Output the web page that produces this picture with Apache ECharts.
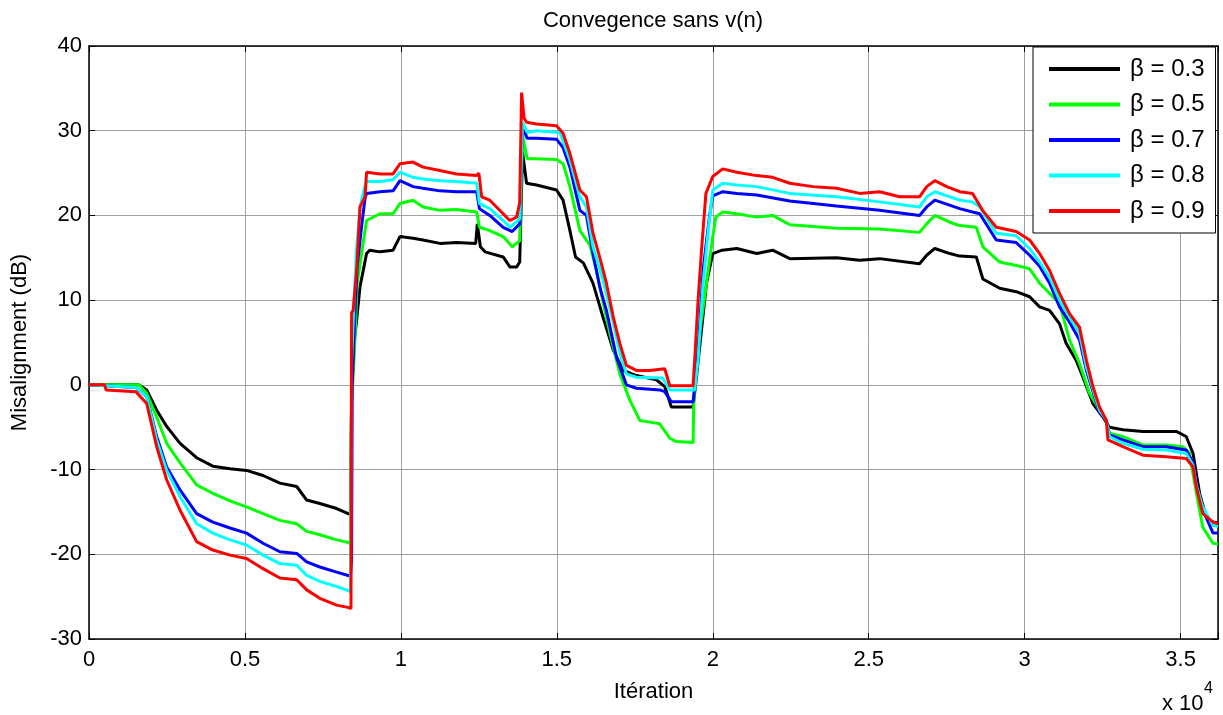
<!DOCTYPE html>
<html>
<head>
<meta charset="utf-8">
<script src="https://cdn.jsdelivr.net/npm/echarts@6/dist/echarts.min.js"></script>
<style>
html,body{margin:0;padding:0;background:#fff;}
#chart{width:1223px;height:715px;}
</style>
</head>
<body>
<div id="chart"></div>
<script>
// x values in units of 10^4 iterations, y in dB
const seriesNames = ['\u03b2 = 0.3', '\u03b2 = 0.5', '\u03b2 = 0.7', '\u03b2 = 0.8', '\u03b2 = 0.9'];
const xTicks = [0, 0.5, 1, 1.5, 2, 2.5, 3, 3.5];
const yTicks = [-30, -20, -10, 0, 10, 20, 30, 40];

const beta03 = [[0,0],[0.16,0],[0.185,-0.6],[0.217,-3],[0.249,-4.9],[0.292,-6.9],[0.345,-8.6],[0.397,-9.6],[0.452,-9.9],[0.505,-10.1],[0.558,-10.7],[0.612,-11.6],[0.666,-12.0],[0.698,-13.6],[0.74,-14.0],[0.794,-14.6],[0.831,-15.2],[0.838,-15.3],[0.842,-1.0],[0.85,5.0],[0.858,7.6],[0.869,11.6],[0.89,15.5],[0.9,15.9],[0.933,15.7],[0.975,15.9],[0.997,17.5],[1.039,17.3],[1.071,17.1],[1.125,16.7],[1.178,16.8],[1.24,16.7],[1.245,19.0],[1.255,16.3],[1.27,15.7],[1.328,15.1],[1.35,13.9],[1.371,13.9],[1.381,14.5],[1.39,27.5],[1.403,23.8],[1.435,23.6],[1.499,23.0],[1.52,21.8],[1.542,18.2],[1.56,15.1],[1.585,14.4],[1.616,12.0],[1.648,8.0],[1.681,4.1],[1.713,1.7],[1.755,1.1],[1.819,0.6],[1.846,-0.2],[1.867,-2.6],[1.937,-2.6],[1.948,1.0],[1.98,12.0],[2.0,15.5],[2.03,15.9],[2.077,16.1],[2.141,15.5],[2.192,15.9],[2.247,14.9],[2.397,15.0],[2.471,14.7],[2.535,14.9],[2.663,14.3],[2.686,15.3],[2.712,16.1],[2.76,15.5],[2.792,15.2],[2.845,15.1],[2.866,12.5],[2.92,11.4],[2.973,11.0],[3.016,10.4],[3.048,9.2],[3.08,8.8],[3.112,7.2],[3.133,4.9],[3.165,2.9],[3.187,0.9],[3.219,-2.2],[3.251,-3.8],[3.272,-5.0],[3.315,-5.3],[3.379,-5.5],[3.486,-5.5],[3.518,-6.1],[3.54,-8.1],[3.561,-12.8],[3.582,-15.6],[3.604,-16.2],[3.62,-16.3]];

const beta05 = [[0,0],[0.16,0],[0.185,-1.0],[0.217,-3.8],[0.249,-6.9],[0.292,-9.2],[0.345,-11.8],[0.397,-12.8],[0.452,-13.7],[0.505,-14.4],[0.558,-15.2],[0.612,-16.0],[0.666,-16.4],[0.698,-17.3],[0.74,-17.7],[0.794,-18.3],[0.831,-18.6],[0.838,-18.8],[0.842,-2.0],[0.85,3.0],[0.86,12.0],[0.874,15.5],[0.89,19.4],[0.933,20.2],[0.975,20.2],[0.997,21.4],[1.039,21.8],[1.071,21.0],[1.125,20.6],[1.178,20.7],[1.243,20.4],[1.252,18.6],[1.285,18.2],[1.328,17.5],[1.357,16.3],[1.381,17.0],[1.39,29.5],[1.405,26.7],[1.43,26.7],[1.499,26.6],[1.52,26.1],[1.542,23.4],[1.574,18.2],[1.606,16.5],[1.627,13.5],[1.648,9.8],[1.670,6.1],[1.702,1.3],[1.734,-1.8],[1.766,-4.2],[1.798,-4.4],[1.83,-4.6],[1.862,-6.3],[1.884,-6.7],[1.937,-6.8],[1.939,-2.2],[1.948,3.5],[1.98,12.0],[2.0,17.5],[2.01,19.8],[2.032,20.4],[2.077,20.2],[2.141,19.8],[2.192,20.0],[2.247,18.9],[2.397,18.5],[2.535,18.4],[2.663,18.0],[2.686,19.0],[2.712,20.0],[2.76,19.2],[2.792,18.8],[2.845,18.6],[2.866,16.3],[2.92,14.5],[2.973,14.1],[3.016,13.7],[3.048,12.0],[3.08,10.8],[3.112,9.6],[3.144,5.3],[3.176,2.5],[3.208,-1.0],[3.24,-3.0],[3.262,-4.2],[3.272,-5.7],[3.315,-6.1],[3.379,-7.1],[3.454,-7.1],[3.507,-7.3],[3.528,-8.0],[3.55,-12.6],[3.571,-16.8],[3.604,-18.7],[3.62,-18.8]];

const beta07 = [[0,0],[0.15,-0.3],[0.185,-1.4],[0.217,-6.1],[0.249,-9.7],[0.292,-12.4],[0.345,-15.2],[0.397,-16.2],[0.452,-16.9],[0.505,-17.5],[0.558,-18.7],[0.612,-19.7],[0.666,-19.9],[0.698,-20.9],[0.74,-21.5],[0.794,-22.1],[0.831,-22.5],[0.838,-22.6],[0.842,-20.5],[0.844,0],[0.852,8.0],[0.86,14.0],[0.875,19.0],[0.885,22.0],[0.89,22.6],[0.933,22.8],[0.975,22.9],[0.997,24.1],[1.039,23.4],[1.071,23.2],[1.125,22.9],[1.178,22.8],[1.243,22.8],[1.252,20.8],[1.285,20.0],[1.328,18.6],[1.357,18.1],[1.381,19.0],[1.39,30.5],[1.405,29.1],[1.435,29.1],[1.499,29.0],[1.52,28.0],[1.542,25.7],[1.574,20.6],[1.595,20.0],[1.616,15.5],[1.638,11.5],[1.659,8.8],[1.691,3.3],[1.723,0],[1.755,-0.4],[1.83,-0.6],[1.846,-0.8],[1.867,-2.0],[1.937,-2.0],[1.953,4.1],[1.969,13.5],[1.98,17.0],[1.99,20.0],[2.0,22.3],[2.032,22.8],[2.077,22.6],[2.141,22.4],[2.247,21.7],[2.397,21.1],[2.535,20.6],[2.663,20.0],[2.686,21.0],[2.712,21.8],[2.792,20.8],[2.833,20.4],[2.856,20.2],[2.909,17.1],[2.973,16.8],[3.016,15.3],[3.048,14.0],[3.08,12.0],[3.112,9.2],[3.144,7.4],[3.176,5.3],[3.198,1.7],[3.219,-0.8],[3.24,-3.2],[3.262,-4.2],[3.272,-5.9],[3.315,-6.5],[3.379,-7.3],[3.454,-7.3],[3.518,-7.7],[3.54,-9.2],[3.555,-12.4],[3.571,-14.7],[3.604,-17.5],[3.62,-17.5]];

const beta08 = [[0,0],[0.15,-0.3],[0.185,-1.4],[0.217,-6.5],[0.249,-10.1],[0.292,-13.2],[0.345,-16.4],[0.397,-17.5],[0.452,-18.3],[0.505,-18.9],[0.558,-20.1],[0.612,-21.1],[0.666,-21.3],[0.698,-22.5],[0.74,-23.2],[0.794,-23.8],[0.831,-24.3],[0.838,-24.4],[0.842,3.0],[0.85,10.0],[0.858,16.0],[0.869,21.0],[0.885,23.5],[0.89,24.0],[0.933,24.0],[0.975,24.2],[0.997,25.1],[1.039,24.5],[1.071,24.3],[1.125,24.1],[1.178,24.0],[1.243,23.8],[1.252,21.4],[1.285,20.8],[1.328,19.4],[1.35,18.6],[1.381,19.6],[1.39,31.0],[1.405,29.8],[1.435,30.0],[1.51,29.8],[1.542,26.5],[1.574,22.2],[1.595,21.0],[1.616,16.3],[1.648,12.4],[1.68,7.6],[1.702,3.8],[1.723,1.3],[1.755,0.9],[1.84,0.8],[1.862,-0.6],[1.942,-0.6],[1.953,3.0],[1.969,12.0],[1.985,18.0],[2.0,23.0],[2.032,23.8],[2.077,23.6],[2.141,23.4],[2.247,22.6],[2.397,22.2],[2.535,21.6],[2.663,21.0],[2.686,22.2],[2.712,22.8],[2.792,21.8],[2.833,21.6],[2.856,21.0],[2.909,17.9],[2.973,17.6],[3.016,16.1],[3.048,14.5],[3.08,12.7],[3.112,10.0],[3.144,8.0],[3.176,6.1],[3.198,2.1],[3.219,-0.5],[3.24,-3.0],[3.262,-4.2],[3.272,-6.1],[3.315,-6.9],[3.379,-7.6],[3.454,-7.7],[3.518,-8.1],[3.54,-9.5],[3.55,-11.8],[3.571,-14.4],[3.604,-16.6],[3.62,-16.7]];

const beta09 = [[0,0],[0.05,0],[0.055,-0.6],[0.15,-0.8],[0.185,-2.2],[0.217,-7.3],[0.249,-11.2],[0.292,-14.8],[0.345,-18.5],[0.397,-19.5],[0.452,-20.1],[0.505,-20.5],[0.558,-21.7],[0.612,-22.8],[0.666,-23.0],[0.698,-24.2],[0.74,-25.2],[0.794,-26.0],[0.833,-26.3],[0.84,-26.4],[0.842,8.5],[0.847,8.8],[0.858,13.5],[0.869,21.0],[0.885,22.2],[0.89,25.1],[0.933,24.9],[0.975,24.9],[0.997,26.1],[1.039,26.3],[1.071,25.7],[1.125,25.3],[1.178,24.9],[1.243,24.7],[1.25,25.0],[1.259,22.2],[1.285,21.8],[1.328,20.2],[1.349,19.4],[1.371,19.8],[1.381,21.5],[1.387,34.5],[1.395,31.5],[1.403,31.0],[1.435,30.8],[1.499,30.6],[1.52,29.7],[1.542,27.3],[1.574,23.0],[1.595,22.2],[1.616,17.9],[1.638,15.0],[1.659,12.0],[1.681,8.0],[1.702,4.9],[1.723,2.3],[1.755,1.7],[1.798,1.7],[1.846,1.9],[1.862,-0.1],[1.937,-0.1],[1.942,2.9],[1.953,10.0],[1.964,15.9],[1.978,22.6],[2.0,24.6],[2.032,25.5],[2.077,25.1],[2.141,24.7],[2.192,24.5],[2.247,23.8],[2.321,23.4],[2.397,23.2],[2.471,22.6],[2.535,22.8],[2.599,22.2],[2.663,22.2],[2.686,23.4],[2.712,24.1],[2.75,23.4],[2.792,22.8],[2.833,22.6],[2.865,20.6],[2.909,18.6],[2.973,18.1],[3.016,17.1],[3.048,15.5],[3.08,13.5],[3.112,10.8],[3.144,8.4],[3.176,6.8],[3.198,2.9],[3.219,-0.2],[3.24,-2.6],[3.262,-4.2],[3.267,-6.5],[3.315,-7.3],[3.379,-8.3],[3.454,-8.5],[3.518,-8.7],[3.54,-9.7],[3.55,-12.0],[3.571,-15.2],[3.604,-16.2],[3.62,-16.4]];

const seriesData = [beta03, beta05, beta07, beta08, beta09];
const seriesColors = ['#000000', '#00ff00', '#0000ff', '#00ffff', '#ff0000'];

const FONT = '"Liberation Sans", Arial, sans-serif';
const chart = echarts.init(document.getElementById('chart'), null, {renderer: 'canvas'});

const xMin = 0, xMax = 3.62;
const fmtX = v => {
  for (const t of xTicks) if (Math.abs(v - t) < 1e-9) return String(t);
  return '';
};
const fmtY = v => {
  for (const t of yTicks) if (Math.abs(v - t) < 1e-9) return String(t);
  return '';
};

const axisCommon = {
  axisLine: {show: true, onZero: false, lineStyle: {color: '#000', width: 1.5}},
  axisTick: {show: true, inside: true, length: 6, lineStyle: {color: '#000', width: 1}},
};

const option = {
  animation: false,
  backgroundColor: '#fff',
  textStyle: {fontFamily: FONT},
  grid: {left: 89, right: 5, top: 46, bottom: 76, containLabel: false},
  legend: {
    data: seriesNames,
    orient: 'vertical',
    left: 1033, top: 47,
    padding: [10, 11, 10, 16],
    backgroundColor: '#fff',
    borderColor: '#000', borderWidth: 1,
    borderRadius: 0,
    icon: 'rect',
    itemWidth: 71, itemHeight: 4,
    itemGap: 11.5,
    textStyle: {fontSize: 24, color: '#000', fontFamily: FONT, lineHeight: 24, padding: [0, 0, 0, 5]},
    selectedMode: false
  },
  xAxis: [
    Object.assign({
      type: 'value', min: xMin, max: xMax, interval: 0.5, position: 'bottom',
      name: 'Itération', nameLocation: 'middle', nameGap: 42,
      nameTextStyle: {fontSize: 22, color: '#000', fontFamily: FONT},
      axisLabel: {fontSize: 22, color: '#000', margin: 10, formatter: fmtX, fontFamily: FONT},
      splitLine: {show: true, lineStyle: {color: '#a0a0a0', width: 1}}
    }, axisCommon),
    Object.assign({
      type: 'value', min: xMin, max: xMax, interval: 0.5, position: 'top',
      axisLabel: {show: false}, splitLine: {show: false}
    }, axisCommon)
  ],
  yAxis: [
    Object.assign({
      type: 'value', min: -30, max: 40, interval: 10, position: 'left',
      name: 'Misalignment (dB)', nameLocation: 'middle', nameGap: 58,
      nameTextStyle: {fontSize: 22, color: '#000', fontFamily: FONT},
      axisLabel: {fontSize: 22, color: '#000', margin: 7, formatter: fmtY, fontFamily: FONT},
      splitLine: {show: true, lineStyle: {color: '#a0a0a0', width: 1}}
    }, axisCommon),
    Object.assign({
      type: 'value', min: -30, max: 40, interval: 10, position: 'right',
      axisLabel: {show: false}, splitLine: {show: false}
    }, axisCommon)
  ],
  graphic: [
    {type: 'text', x: 653, y: 21, style: {text: 'Convegence sans v(n)', fontSize: 22, fontFamily: FONT, fill: '#000', textAlign: 'center', textVerticalAlign: 'middle'}},
    {type: 'text', x: 1162, y: 704, style: {text: 'x 10', fontSize: 22, fontFamily: FONT, fill: '#000', textAlign: 'left', textVerticalAlign: 'middle'}},
    {type: 'text', x: 1204, y: 689, style: {text: '4', fontSize: 16, fontFamily: FONT, fill: '#000', textAlign: 'left', textVerticalAlign: 'middle'}}
  ],
  series: seriesData.map((d, i) => ({
    name: seriesNames[i],
    type: 'line',
    data: d,
    xAxisIndex: 0, yAxisIndex: 0,
    showSymbol: false,
    symbol: 'none',
    lineStyle: {color: seriesColors[i], width: 3},
    itemStyle: {color: seriesColors[i]},
    emphasis: {disabled: true},
    z: 2 + i
  }))
};
chart.setOption(option);
</script>
</body>
</html>
